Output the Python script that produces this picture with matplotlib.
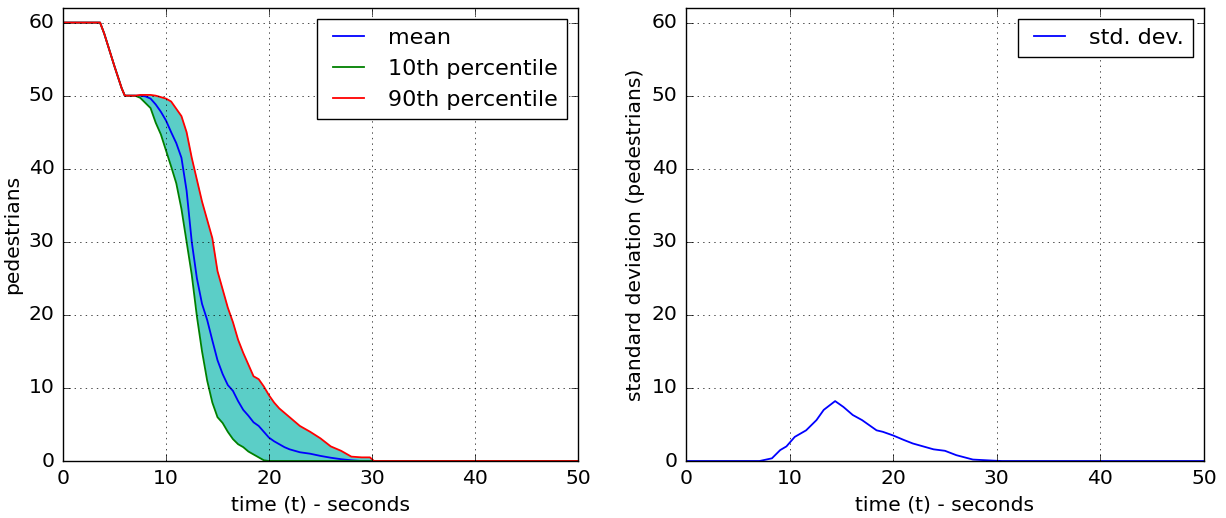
import matplotlib
matplotlib.use("Agg")
import matplotlib.pyplot as plt

plt.style.use("classic")
plt.rcParams["font.size"] = 14.6
plt.rcParams["legend.fontsize"] = 16
plt.rcParams["lines.linewidth"] = 1.3
plt.rcParams["xtick.major.size"] = 5
plt.rcParams["ytick.major.size"] = 5
plt.rcParams["xtick.major.pad"] = 6
plt.rcParams["ytick.major.pad"] = 6

time = [0, 3.6, 4.0, 5.0, 5.7, 6.0, 7.0, 7.5, 8.0, 8.5, 9.0, 9.5, 10.0, 10.5,
        11.0, 11.5, 12.0, 12.5, 13.0, 13.5, 14.0, 14.5, 15.0, 15.5, 16.0, 16.5,
        17.0, 17.5, 18.0, 18.5, 19.0, 19.5, 20.0, 20.5, 21.0, 21.5, 22.0, 23.0,
        24.0, 25.0, 26.0, 27.0, 28.0, 29.0, 29.8, 30.2, 50]
p10 = [60, 60, 58.5, 54, 51, 50, 50, 49.7, 49.0, 48.3, 46.3, 44.7, 42.5, 40.3,
       38.0, 34.5, 30, 25.5, 19.8, 15.0, 11.0, 8.0, 6.0, 5.2, 4.0, 3.0,
       2.3, 1.9, 1.3, 0.9, 0.5, 0.1, 0, 0, 0, 0, 0, 0,
       0, 0, 0, 0, 0, 0, 0, 0, 0]
mean = [60, 60, 58.5, 54, 51, 50, 50, 50, 49.9, 49.6, 48.8, 47.8, 46.6, 45.0,
        43.5, 41.5, 37, 30, 25, 21.5, 19.3, 16.5, 13.8, 11.9, 10.4, 9.6,
        8.2, 7.0, 6.2, 5.3, 4.8, 4.0, 3.2, 2.7, 2.3, 1.9, 1.6, 1.2,
        1.0, 0.7, 0.45, 0.25, 0.1, 0, 0, 0, 0]
p90 = [60, 60, 58.5, 54, 51, 50, 50, 50.1, 50.1, 50.1, 50.0, 49.8, 49.6, 49.2,
       48.2, 47.2, 45, 41.5, 38.5, 35.5, 33.0, 30.5, 26.0, 23.5, 21.0, 19.0,
       16.6, 14.8, 13.2, 11.6, 11.2, 10.2, 9.0, 8.0, 7.2, 6.6, 6.0, 4.8,
       4.0, 3.1, 2.0, 1.4, 0.6, 0.5, 0.5, 0, 0]

sd_time = [0, 7.1, 8.3, 9.1, 9.7, 10.5, 11.6, 12.6, 13.3, 14.4, 15.2, 16.1,
           17.0, 18.4, 19.0, 20.0, 21.0, 21.9, 22.9, 23.9, 25.0, 26.1, 27.7,
           29.7, 30.5, 50]
sd = [0, 0, 0.37, 1.5, 2.0, 3.3, 4.2, 5.6, 7.0, 8.2, 7.4, 6.3,
      5.6, 4.2, 4.0, 3.5, 2.9, 2.4, 2.0, 1.6, 1.4, 0.8, 0.2,
      0.05, 0, 0]

fig = plt.figure(figsize=(12.26, 5.18), dpi=100, facecolor="white")
ax1 = fig.add_axes([0.0514, 0.110, 0.420, 0.8746])
ax2 = fig.add_axes([0.5595, 0.110, 0.4225, 0.8746])

ax1.fill_between(time, p10, p90, color="#5BCEC7", linewidth=0)
ax1.plot(time, mean, "b-", label="mean")
ax1.plot(time, p10, "g-", label="10th percentile")
ax1.plot(time, p90, "r-", label="90th percentile")
ax1.set_ylabel("pedestrians")
ax1.legend(loc="upper right")

ax2.plot(sd_time, sd, "b-", label="std. dev.")
ax2.set_ylabel("standard deviation (pedestrians)")
ax2.legend(loc="upper right")

for ax in (ax1, ax2):
    ax.set_xlim(0, 50)
    ax.set_ylim(0, 62)
    ax.set_yticks(range(0, 61, 10))
    ax.set_xlabel("time (t) - seconds")
    ax.grid(True)

fig.savefig("out.png", dpi=100, facecolor="white")
